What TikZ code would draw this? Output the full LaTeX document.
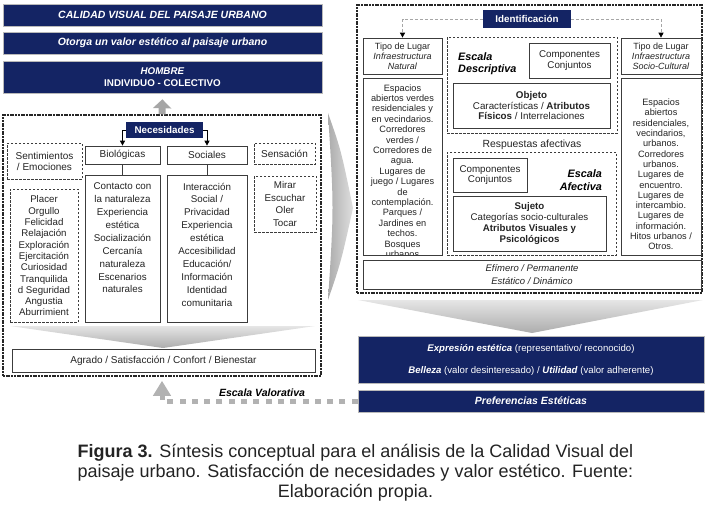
\documentclass[tikz,border=0pt]{standalone}
\usepackage{fontspec}
\setmainfont{Liberation Sans}
\usetikzlibrary{arrows.meta,calc}
\definecolor{navy}{RGB}{20,36,100}
\definecolor{lineg}{RGB}{60,60,60}
\definecolor{txtc}{RGB}{35,35,35}
\newcommand\fs[2]{\fontsize{#1}{#2}\selectfont}
\begin{document}
\begin{tikzpicture}[x=1pt,y=-1pt,
  banner/.style={fill=navy, draw=gray!55, line width=0.6pt, text=white, inner sep=0pt, align=center},
  sbox/.style={draw=lineg, line width=0.7pt, inner sep=0pt, align=center, text=txtc},
  dbox/.style={draw=lineg, line width=0.6pt, dash pattern=on 2.5pt off 1.5pt, inner sep=0pt, align=center, text=txtc},
  outer/.style={draw=black!85, line width=1.5pt, dash pattern=on 2pt off 0.7pt, inner sep=0pt},
  txt/.style={inner sep=0pt, align=center, text=txtc},
  conn/.style={draw=black, line width=0.8pt, -{Triangle[width=5pt,length=5pt]}},
  idconn/.style={draw=gray!70, line width=0.7pt, dash pattern=on 3pt off 2pt, -{Triangle[width=5pt,length=5pt,color=black]}},
  link/.style={draw=lineg, line width=0.6pt},
  bigup/.style={draw=gray!70, line width=7pt, -{Triangle[width=18pt,length=9pt]}, shorten >=6pt},
  valor/.style={draw=gray!60, line width=5pt, dash pattern=on 6pt off 6.3pt, -{Triangle[width=17pt,length=15pt]}, shorten >=4pt},
]
\useasboundingbox (0,0) rectangle (711,512);

% ---------------- left panel ----------------
\node[banner, minimum width=319, minimum height=22, font=\bfseries\itshape\fs{10.5}{12}] (cal) at (162.5,15) {CALIDAD VISUAL DEL PAISAJE URBANO};
\node[banner, minimum width=319, minimum height=22, font=\bfseries\itshape\fs{10.5}{12}] (oto) at (162.5,43) {Otorga un valor estético al paisaje urbano};
\node[banner, minimum width=319, minimum height=32, font=\bfseries\fs{9.8}{12}] (hom) at (162.5,77) {\textit{HOMBRE}\\INDIVIDUO - COLECTIVO};

\node[outer, minimum width=318, minimum height=261] (outL) at (162,245.5) {};
\draw[bigup] (outL.north) -- (hom.south);

\node[banner, draw=none, minimum width=77, minimum height=16, font=\bfseries\fs{9.8}{11}] (nec) at (164.5,130) {Necesidades};

\node[dbox, minimum width=75, minimum height=36, font=\fs{10}{11}] (sent) at (44.5,161) {Sentimientos\\/ Emociones};
\node[sbox, minimum width=75, minimum height=18, font=\fs{10}{11}] (bio) at (122.5,155) {Biológicas};
\node[sbox, minimum width=80, minimum height=18, font=\fs{10}{11}] (soc) at (207,155) {Sociales};
\node[dbox, minimum width=61, minimum height=21, font=\fs{10}{11}] (sens) at (284.5,153.5) {Sensación};

\draw[conn] (nec.west) -| (bio.north);
\draw[conn] (nec.east) -| (soc.north);

\node[dbox, minimum width=68, minimum height=133] (emoL) at (44,255.5) {};
\node[txt, font=\fs{9.7}{11.3}] (emoT) at (44,256) {Placer\\Orgullo\\Felicidad\\Relajación\\Exploración\\Ejercitación\\Curiosidad\\Tranquilida\\d Seguridad\\Angustia\\Aburrimient};

\node[sbox, minimum width=75, minimum height=147] (bioL) at (122.5,248.5) {};
\node[txt, font=\fs{9.8}{12.9}] (bioT) at (122.5,238) {Contacto con\\la naturaleza\\Experiencia\\estética\\Socialización\\Cercanía\\naturaleza\\Escenarios\\naturales};

\node[sbox, minimum width=80, minimum height=147] (socL) at (207,248.5) {};
\node[txt, font=\fs{9.8}{12.9}] (socT) at (207,244.5) {Interacción\\Social /\\Privacidad\\Experiencia\\estética\\Accesibilidad\\Educación/\\Información\\Identidad\\comunitaria};

\node[dbox, minimum width=62, minimum height=56, font=\fs{9.8}{12.4}] (sensL) at (285,204) {Mirar\\Escuchar\\Oler\\Tocar};

\draw[link] (bio.south) -- (bioL.north);
\draw[link] (soc.south) -- (socL.north);

\shade[top color=gray!20, bottom color=gray!65] (10,326) -- (315,326) -- (163,348) -- cycle;
\node[sbox, minimum width=303, minimum height=23, font=\fs{10}{11}] (agr) at (163.5,360.5) {Agrado / Satisfacción / Confort / Bienestar};

% ---------------- middle chevron ----------------
\shade[left color=gray!65, right color=gray!25] (328,113) .. controls (341,150) .. (353,208) .. controls (341,262) .. (328,300) .. controls (334,208) .. cycle;

% ---------------- right panel ----------------
\node[outer, minimum width=345, minimum height=288] (outR) at (529.5,149) {};
\node[banner, draw=none, minimum width=88, minimum height=18, font=\bfseries\fs{9.8}{11}] (ident) at (527,19) {Identificación};

\node[sbox, minimum width=79, minimum height=36, font=\fs{9}{10}] (tipoL) at (402.5,56) {Tipo de Lugar\\\textit{Infraestructura}\\\textit{Natural}};
\node[sbox, minimum width=80, minimum height=36, font=\fs{9}{10}] (tipoR) at (661,56) {Tipo de Lugar\\\textit{Infraestructura}\\\textit{Socio-Cultural}};
\draw[idconn] (ident.west) -| (tipoL.north);
\draw[idconn] (ident.east) -| (tipoR.north);

\begin{scope}
\clip (363,78) rectangle (442,255);
\node[txt, font=\fs{9.2}{10.4}] (lugLT) at (402.5,171) {Espacios\\abiertos verdes\\residenciales y\\en vecindarios.\\Corredores\\verdes /\\Corredores de\\agua.\\Lugares de\\juego / Lugares\\de\\contemplación.\\Parques /\\Jardines en\\techos.\\Bosques\\urbanos};
\end{scope}
\node[sbox, minimum width=79, minimum height=177] (lugL) at (402.5,166.5) {};

\node[sbox, minimum width=80, minimum height=177] (lugR) at (661,166.5) {};
\node[txt, font=\fs{9.2}{10.3}] (lugRT) at (661,174.5) {Espacios\\abiertos\\residenciales,\\vecindarios,\\urbanos.\\Corredores\\urbanos.\\Lugares de\\encuentro.\\Lugares de\\intercambio.\\Lugares de\\información.\\Hitos urbanos /\\Otros.};

\node[dbox, minimum width=170, minimum height=96] (descD) at (532,85) {};
\node[sbox, minimum width=81, minimum height=35, font=\fs{9.8}{10.5}] (compD) at (569.5,60.5) {Componentes\\Conjuntos};
\node[txt, anchor=west, align=left, font=\bfseries\itshape\fs{10.8}{12.5}, text=black] (escD) at (458,63.5) {Escala\\Descriptiva};
\node[sbox, minimum width=157, minimum height=45, font=\fs{9.8}{10.5}] (obj) at (531.5,105.5) {\textbf{Objeto}\\Características / \textbf{Atributos}\\\textbf{Físicos} / Interrelaciones};

\node[txt, font=\fs{10.4}{12}] (resp) at (532,145) {Respuestas afectivas};

\node[dbox, minimum width=169, minimum height=103] (afD) at (531.5,203.5) {};
\node[sbox, minimum width=74, minimum height=34, font=\fs{9.8}{10.5}] (compA) at (490,175) {Componentes\\Conjuntos};
\node[txt, anchor=east, align=right, font=\bfseries\itshape\fs{10.8}{13}, text=black] (escA) at (602,180) {Escala\\Afectiva};
\node[sbox, minimum width=153, minimum height=55, font=\fs{9.7}{11.3}] (suj) at (529.5,223.5) {\textbf{Sujeto}\\Categorías socio-culturales\\\textbf{Atributos Visuales y}\\\textbf{Psicológicos}};

\node[sbox, minimum width=338, minimum height=29, font=\itshape\fs{9.5}{12.5}] (efi) at (532,274.5) {Efímero / Permanente\\Estático / Dinámico};

\shade[top color=gray!20, bottom color=gray!65] (358,300) -- (703,300) -- (532,333) -- cycle;

\node[banner, minimum width=346, minimum height=47, font=\fs{9.6}{22}] (expr) at (531,359.5) {\textbf{\textit{Expresión estética}} (representativo/ reconocido)\\\textbf{\textit{Belleza}} (valor desinteresado) / \textbf{\textit{Utilidad}} (valor adherente)};
\node[banner, minimum width=346, minimum height=22, font=\bfseries\itshape\fs{10.5}{12}] (pref) at (531,401) {Preferencias Estéticas};

\draw[valor] (pref.west) -| (outL.south);
\node[txt, font=\bfseries\itshape\fs{10.5}{12}, text=black] (escV) at (262,393) {Escala Valorativa};

% ---------------- caption ----------------
\node[txt, font=\fs{18}{20.2}] (cap) at (355.5,473) {\textbf{Figura 3.} Síntesis conceptual para el análisis de la Calidad Visual del\\paisaje urbano. Satisfacción de necesidades y valor estético. Fuente:\\Elaboración propia.};
\end{tikzpicture}
\end{document}
